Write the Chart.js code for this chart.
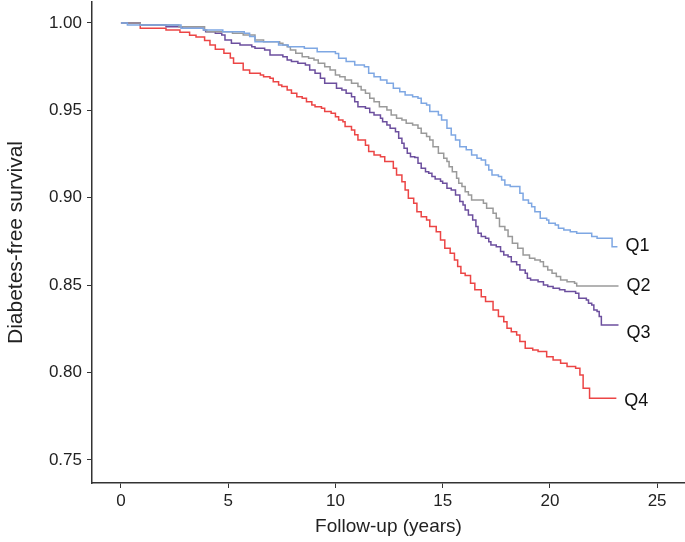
<!DOCTYPE html>
<html>
<head>
<meta charset="utf-8">
<script src="https://cdn.jsdelivr.net/npm/chart.js@4.4.0/dist/chart.umd.min.js"></script>
<style>
  html, body { margin: 0; padding: 0; background: #fff; }
  #wrap { width: 685px; height: 542px; position: relative; }
</style>
</head>
<body>
<div id="wrap"><canvas id="chart1"></canvas></div>
<script>
// Kaplan-Meier curves (time in years, survival)
var groupNames = ['Q1', 'Q2', 'Q3', 'Q4'];

var q1Time = [0, 0.3, 2.8, 3.85, 4.75, 5.75, 6.0, 6.25, 7.35, 7.8, 8.55, 9.15, 10.0, 10.15, 10.5, 10.9, 11.35, 11.55, 11.8, 12.1, 12.4, 12.7, 13.0, 13.25, 13.6, 13.85, 14.0, 14.25, 14.4, 14.8, 14.95, 15.2, 15.4, 15.6, 15.8, 16.1, 16.35, 16.6, 16.8, 17.0, 17.15, 17.3, 17.6, 17.75, 17.9, 18.15, 18.6, 18.75, 19.0, 19.15, 19.3, 19.55, 19.85, 19.95, 20.25, 20.4, 20.65, 20.95, 21.25, 21.95, 22.2, 22.9, 23.15];
var q1Surv = [1, 0.9989, 0.997, 0.996, 0.995, 0.9941, 0.9922, 0.9893, 0.9874, 0.9864, 0.9855, 0.9836, 0.9826, 0.9798, 0.9779, 0.976, 0.975, 0.9712, 0.9693, 0.9674, 0.9655, 0.9626, 0.9607, 0.9588, 0.9578, 0.9569, 0.9541, 0.9531, 0.9493, 0.9474, 0.9445, 0.9398, 0.9359, 0.9331, 0.9292, 0.9274, 0.9245, 0.9226, 0.9216, 0.9188, 0.9159, 0.913, 0.9121, 0.9102, 0.9073, 0.9064, 0.9026, 0.8987, 0.8969, 0.8949, 0.892, 0.8883, 0.8873, 0.8854, 0.8844, 0.8826, 0.8816, 0.8806, 0.8797, 0.8778, 0.8768, 0.872, 0.872];

var q2Time = [0, 0.9, 2.7, 3.9, 4.0, 5.2, 5.7, 6.25, 6.65, 7.4, 7.55, 7.75, 7.9, 8.15, 8.45, 8.75, 9.0, 9.2, 9.5, 9.75, 10.0, 10.2, 10.45, 10.75, 11.05, 11.2, 11.4, 11.6, 11.8, 12.05, 12.4, 12.6, 12.85, 13.1, 13.3, 13.6, 13.85, 14.0, 14.25, 14.4, 14.55, 14.8, 15.05, 15.2, 15.3, 15.45, 15.65, 15.75, 15.9, 16.05, 16.2, 16.35, 16.9, 17.05, 17.35, 17.5, 17.65, 17.9, 18.05, 18.25, 18.5, 18.75, 19.05, 19.3, 19.55, 19.7, 19.9, 20.1, 20.3, 20.5, 20.8, 21.15, 21.25, 23.2];
var q2Surv = [1, 0.9989, 0.9979, 0.996, 0.995, 0.9941, 0.9931, 0.9903, 0.9893, 0.9884, 0.9874, 0.9864, 0.9846, 0.9827, 0.9807, 0.9798, 0.9788, 0.9769, 0.975, 0.9731, 0.9703, 0.9693, 0.9674, 0.9655, 0.9636, 0.9617, 0.9598, 0.9569, 0.955, 0.9521, 0.9502, 0.9474, 0.9455, 0.9445, 0.9426, 0.9416, 0.9398, 0.9369, 0.935, 0.9331, 0.9292, 0.9255, 0.9226, 0.9207, 0.9178, 0.9149, 0.9112, 0.9083, 0.9064, 0.9035, 0.9016, 0.8987, 0.8969, 0.894, 0.8911, 0.8883, 0.8835, 0.8816, 0.8778, 0.874, 0.8711, 0.8673, 0.8654, 0.8644, 0.8634, 0.8606, 0.8587, 0.8568, 0.8549, 0.853, 0.852, 0.8511, 0.8495, 0.8495];

var q3Time = [0, 0.9, 2.1, 2.85, 3.85, 3.95, 4.4, 4.7, 4.85, 5.15, 5.55, 6.1, 6.25, 6.7, 6.95, 7.55, 7.75, 7.95, 8.25, 8.6, 8.8, 9.05, 9.3, 9.5, 10.05, 10.3, 10.5, 10.75, 10.9, 11.05, 11.4, 11.6, 11.8, 12.1, 12.2, 12.4, 12.55, 12.8, 12.95, 13.1, 13.2, 13.35, 13.5, 13.7, 13.85, 14.0, 14.2, 14.35, 14.5, 14.65, 14.9, 15.0, 15.2, 15.4, 15.6, 15.8, 15.95, 16.05, 16.2, 16.4, 16.55, 16.65, 16.8, 17.0, 17.15, 17.25, 17.5, 17.7, 17.85, 18.05, 18.2, 18.45, 18.6, 18.85, 18.95, 19.1, 19.45, 19.7, 19.9, 20.15, 20.45, 20.7, 21.2, 21.35, 21.7, 21.8, 21.95, 22.05, 22.2, 22.3, 22.4, 23.2];
var q3Surv = [1, 0.9989, 0.9979, 0.997, 0.996, 0.995, 0.9941, 0.9931, 0.9903, 0.9884, 0.9874, 0.9864, 0.9855, 0.9846, 0.9817, 0.9807, 0.9788, 0.9779, 0.9769, 0.976, 0.9731, 0.9712, 0.9684, 0.9655, 0.9626, 0.9617, 0.9598, 0.9578, 0.955, 0.9521, 0.9512, 0.9488, 0.9474, 0.9455, 0.9435, 0.9416, 0.9398, 0.9378, 0.934, 0.9312, 0.9283, 0.9254, 0.9235, 0.923, 0.9197, 0.9169, 0.9149, 0.914, 0.9121, 0.9107, 0.9095, 0.9083, 0.9054, 0.9045, 0.9016, 0.8978, 0.8959, 0.893, 0.8902, 0.8873, 0.8835, 0.8797, 0.8778, 0.8768, 0.8749, 0.873, 0.872, 0.8692, 0.8673, 0.8663, 0.8634, 0.8616, 0.8587, 0.8568, 0.8539, 0.853, 0.852, 0.8501, 0.8492, 0.8482, 0.8473, 0.8463, 0.8454, 0.8425, 0.8415, 0.8396, 0.8387, 0.8358, 0.8349, 0.832, 0.8272, 0.8272];

var q4Time = [0, 0.9, 2.1, 2.75, 3.2, 3.5, 3.9, 4.15, 4.4, 4.8, 5.1, 5.25, 5.7, 6.0, 6.5, 6.65, 6.95, 7.1, 7.35, 7.5, 7.75, 7.95, 8.2, 8.45, 8.65, 8.9, 9.05, 9.35, 9.5, 9.8, 10.0, 10.15, 10.35, 10.45, 10.75, 10.9, 11.05, 11.4, 11.55, 11.8, 12.1, 12.3, 12.7, 12.85, 13.1, 13.25, 13.4, 13.65, 13.8, 14.0, 14.25, 14.4, 14.7, 14.9, 15.1, 15.35, 15.55, 15.7, 15.85, 16.05, 16.3, 16.5, 16.8, 17.0, 17.35, 17.6, 17.85, 18.0, 18.2, 18.45, 18.6, 18.85, 19.2, 19.45, 19.85, 20.15, 20.5, 20.8, 21.2, 21.4, 21.55, 21.85, 23.1];
var q4Surv = [1, 0.997, 0.996, 0.9947, 0.993, 0.992, 0.99, 0.9874, 0.985, 0.9827, 0.98, 0.977, 0.9731, 0.9712, 0.9703, 0.9693, 0.9684, 0.9664, 0.9645, 0.9636, 0.9617, 0.9598, 0.9578, 0.9569, 0.955, 0.9531, 0.9521, 0.9512, 0.9493, 0.9483, 0.9464, 0.9445, 0.9435, 0.9407, 0.9388, 0.936, 0.9331, 0.93, 0.9264, 0.9245, 0.9235, 0.9207, 0.9169, 0.913, 0.9092, 0.9045, 0.8997, 0.8969, 0.892, 0.8892, 0.8873, 0.8835, 0.8806, 0.8759, 0.8711, 0.8682, 0.8644, 0.8606, 0.8568, 0.8555, 0.8511, 0.8473, 0.8434, 0.8406, 0.8358, 0.832, 0.8291, 0.8253, 0.8234, 0.8215, 0.8177, 0.8139, 0.8129, 0.812, 0.8091, 0.8072, 0.8053, 0.8034, 0.8024, 0.7986, 0.791, 0.7853, 0.7853];

// where the Q labels sit (survival level of each label)
var labelLevel = [0.8725, 0.8495, 0.8228, 0.7838];

var xTicks = [0, 5, 10, 15, 20, 25];
var yTicks = [0.75, 0.80, 0.85, 0.90, 0.95, 1.00];

var lineColors = ['#7ea7e3', '#9a9a9a', '#6c4f9e', '#ec4545'];

function toPoints(t, s) {
    return t.map(function (v, i) { return { x: v, y: s[i] }; });
}

var allTimes = [q1Time, q2Time, q3Time, q4Time];
var allSurv = [q1Surv, q2Surv, q3Surv, q4Surv];

var font = 'Liberation Sans, Arial, Helvetica, sans-serif';

// draws "Q1".."Q4" to the right of each curve end
var endLabels = {
    id: 'endLabels',
    afterDatasetsDraw: function (chart) {
        var ctx = chart.ctx;
        var xs = chart.scales.x, ys = chart.scales.y;
        ctx.save();
        ctx.font = '18px ' + font;
        ctx.fillStyle = '#111';
        ctx.textBaseline = 'middle';
        ctx.textAlign = 'left';
        for (var i = 0; i < groupNames.length; i++) {
            var t = allTimes[i];
            var px = xs.getPixelForValue(t[t.length - 1]) + 8;
            var py = ys.getPixelForValue(labelLevel[i]);
            ctx.fillText(groupNames[i], px, py);
        }
        ctx.restore();
    }
};

var datasets = groupNames.map(function (name, i) {
    return {
        label: name,
        data: toPoints(allTimes[i], allSurv[i]),
        borderColor: lineColors[i],
        backgroundColor: lineColors[i],
        borderWidth: 1.5,
        pointRadius: 0,
        stepped: 'before',
        fill: false
    };
});

var ctx1 = document.getElementById('chart1').getContext('2d');
var chart1 = new Chart(ctx1, {
    type: 'line',
    data: { datasets: datasets },
    plugins: [endLabels],
    options: {
        responsive: true,
        maintainAspectRatio: false,
        animation: false,
        layout: { padding: { top: 2, right: 0, left: 0, bottom: 0 } },
        plugins: {
            legend: { display: false },
            tooltip: { enabled: false }
        },
        scales: {
            x: {
                type: 'linear',
                min: -1.35,
                max: 26.3,
                afterBuildTicks: function (scale) {
                    scale.ticks = xTicks.map(function (v) { return { value: v }; });
                },
                afterFit: function (scale) {
                    scale.height = 59;
                    scale.paddingLeft = 0;
                    scale.paddingRight = 0;
                },
                grid: { display: true, drawOnChartArea: false, drawTicks: true, tickLength: 5, color: '#333', tickWidth: 1 },
                border: { display: true, color: '#333', width: 1.5 },
                ticks: { color: '#222', padding: 3, maxRotation: 0, font: { family: font, size: 17 } },
                title: { display: true, text: 'Follow-up (years)', color: '#222', padding: { top: 2 }, font: { family: font, size: 19 } }
            },
            y: {
                type: 'linear',
                min: 0.7368,
                max: 1.012,
                afterBuildTicks: function (scale) {
                    scale.ticks = yTicks.map(function (v) { return { value: v }; });
                },
                afterFit: function (scale) {
                    scale.width = 92;
                    scale.paddingTop = 0;
                    scale.paddingBottom = 0;
                },
                grid: { display: true, drawOnChartArea: false, drawTicks: true, tickLength: 5, color: '#333', tickWidth: 1 },
                border: { display: true, color: '#333', width: 1.5 },
                ticks: {
                    color: '#222', padding: 5, font: { family: font, size: 17 },
                    callback: function (v) { return Number(v).toFixed(2); }
                },
                title: { display: true, text: 'Diabetes-free survival', color: '#222', padding: { bottom: 0 }, font: { family: font, size: 21 } }
            }
        }
    }
});
</script>
</body>
</html>
